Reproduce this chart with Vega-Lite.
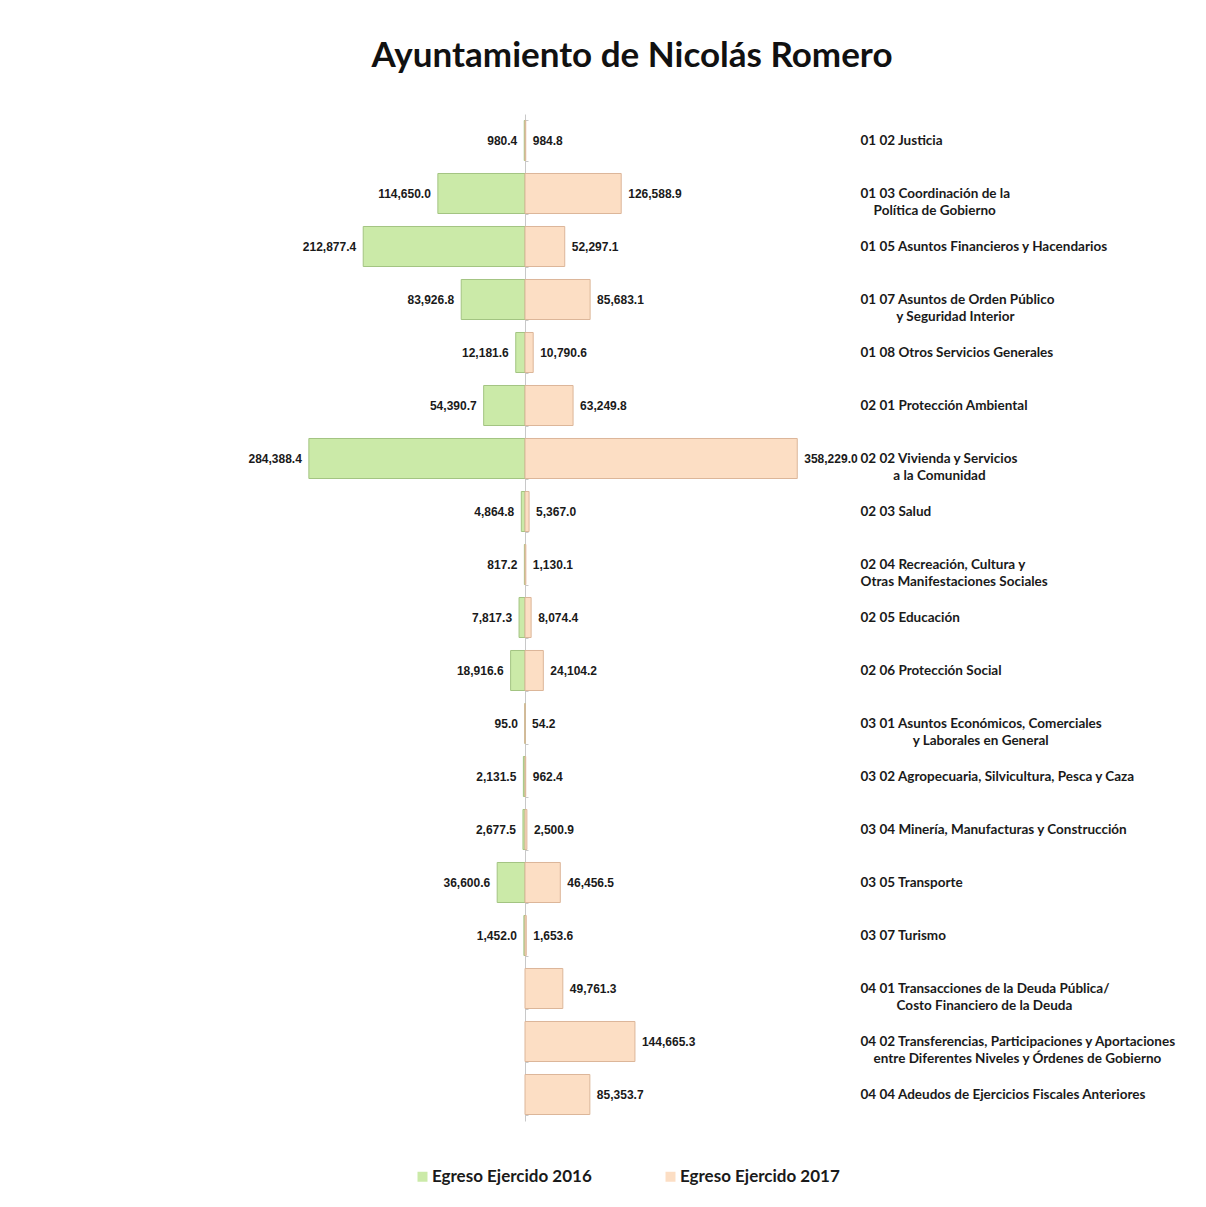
{
  "$schema": "https://vega.github.io/schema/vega-lite/v6.json",
  "autosize": {"type": "pad"},
  "padding": {"left": 240, "top": 38, "right": 5, "bottom": 5},
  "background": "white",
  "bounds": "flush",
  "spacing": 0,
  "title": {
    "text": "Ayuntamiento de Nicolás Romero",
    "font": "Lato",
    "fontSize": 35,
    "fontWeight": "bold",
    "color": "#111111",
    "anchor": "middle",
    "dx": -76,
    "offset": 40.5
  },
  "config": {
    "view": {"stroke": null},
    "legend": {
      "orient": "none",
      "legendX": 174,
      "legendY": 1054,
      "direction": "horizontal",
      "title": null,
      "symbolType": "square",
      "symbolSize": 100,
      "symbolStrokeWidth": 0,
      "labelFont": "Lato",
      "labelFontSize": 17,
      "labelFontWeight": "bold",
      "labelColor": "#1a1a1a",
      "labelOffset": 1,
      "columnPadding": 70,
      "labelLimit": 300
    }
  },
  "data": {
    "values": [
      {"cat": "01 02 Justicia", "serie": "Egreso Ejercido 2016", "valor": 980.4},
      {"cat": "01 02 Justicia", "serie": "Egreso Ejercido 2017", "valor": 984.8},
      {"cat": "01 03 Coordinación de la\n\u200b\u00a0\u00a0\u00a0\u00a0Política de Gobierno", "serie": "Egreso Ejercido 2016", "valor": 114650.0},
      {"cat": "01 03 Coordinación de la\n\u200b\u00a0\u00a0\u00a0\u00a0Política de Gobierno", "serie": "Egreso Ejercido 2017", "valor": 126588.9},
      {"cat": "01 05 Asuntos Financieros y Hacendarios", "serie": "Egreso Ejercido 2016", "valor": 212877.4},
      {"cat": "01 05 Asuntos Financieros y Hacendarios", "serie": "Egreso Ejercido 2017", "valor": 52297.1},
      {"cat": "01 07 Asuntos de Orden Público\n\u200b\u00a0\u00a0\u00a0\u00a0\u00a0\u00a0\u00a0\u00a0\u00a0\u00a0\u00a0y Seguridad Interior", "serie": "Egreso Ejercido 2016", "valor": 83926.8},
      {"cat": "01 07 Asuntos de Orden Público\n\u200b\u00a0\u00a0\u00a0\u00a0\u00a0\u00a0\u00a0\u00a0\u00a0\u00a0\u00a0y Seguridad Interior", "serie": "Egreso Ejercido 2017", "valor": 85683.1},
      {"cat": "01 08 Otros Servicios Generales", "serie": "Egreso Ejercido 2016", "valor": 12181.6},
      {"cat": "01 08 Otros Servicios Generales", "serie": "Egreso Ejercido 2017", "valor": 10790.6},
      {"cat": "02 01 Protección Ambiental", "serie": "Egreso Ejercido 2016", "valor": 54390.7},
      {"cat": "02 01 Protección Ambiental", "serie": "Egreso Ejercido 2017", "valor": 63249.8},
      {"cat": "02 02 Vivienda y Servicios\n\u200b\u00a0\u00a0\u00a0\u00a0\u00a0\u00a0\u00a0\u00a0\u00a0\u00a0a la Comunidad", "serie": "Egreso Ejercido 2016", "valor": 284388.4},
      {"cat": "02 02 Vivienda y Servicios\n\u200b\u00a0\u00a0\u00a0\u00a0\u00a0\u00a0\u00a0\u00a0\u00a0\u00a0a la Comunidad", "serie": "Egreso Ejercido 2017", "valor": 358229.0},
      {"cat": "02 03 Salud", "serie": "Egreso Ejercido 2016", "valor": 4864.8},
      {"cat": "02 03 Salud", "serie": "Egreso Ejercido 2017", "valor": 5367.0},
      {"cat": "02 04 Recreación, Cultura y\nOtras Manifestaciones Sociales", "serie": "Egreso Ejercido 2016", "valor": 817.2},
      {"cat": "02 04 Recreación, Cultura y\nOtras Manifestaciones Sociales", "serie": "Egreso Ejercido 2017", "valor": 1130.1},
      {"cat": "02 05 Educación", "serie": "Egreso Ejercido 2016", "valor": 7817.3},
      {"cat": "02 05 Educación", "serie": "Egreso Ejercido 2017", "valor": 8074.4},
      {"cat": "02 06 Protección Social", "serie": "Egreso Ejercido 2016", "valor": 18916.6},
      {"cat": "02 06 Protección Social", "serie": "Egreso Ejercido 2017", "valor": 24104.2},
      {"cat": "03 01 Asuntos Económicos, Comerciales\n\u200b\u00a0\u00a0\u00a0\u00a0\u00a0\u00a0\u00a0\u00a0\u00a0\u00a0\u00a0\u00a0\u00a0\u00a0\u00a0\u00a0y Laborales en General", "serie": "Egreso Ejercido 2016", "valor": 95.0},
      {"cat": "03 01 Asuntos Económicos, Comerciales\n\u200b\u00a0\u00a0\u00a0\u00a0\u00a0\u00a0\u00a0\u00a0\u00a0\u00a0\u00a0\u00a0\u00a0\u00a0\u00a0\u00a0y Laborales en General", "serie": "Egreso Ejercido 2017", "valor": 54.2},
      {"cat": "03 02 Agropecuaria, Silvicultura, Pesca y Caza", "serie": "Egreso Ejercido 2016", "valor": 2131.5},
      {"cat": "03 02 Agropecuaria, Silvicultura, Pesca y Caza", "serie": "Egreso Ejercido 2017", "valor": 962.4},
      {"cat": "03 04 Minería, Manufacturas y Construcción", "serie": "Egreso Ejercido 2016", "valor": 2677.5},
      {"cat": "03 04 Minería, Manufacturas y Construcción", "serie": "Egreso Ejercido 2017", "valor": 2500.9},
      {"cat": "03 05 Transporte", "serie": "Egreso Ejercido 2016", "valor": 36600.6},
      {"cat": "03 05 Transporte", "serie": "Egreso Ejercido 2017", "valor": 46456.5},
      {"cat": "03 07 Turismo", "serie": "Egreso Ejercido 2016", "valor": 1452.0},
      {"cat": "03 07 Turismo", "serie": "Egreso Ejercido 2017", "valor": 1653.6},
      {"cat": "04 01 Transacciones de la Deuda Pública/\n\u200b\u00a0\u00a0\u00a0\u00a0\u00a0\u00a0\u00a0\u00a0\u00a0\u00a0\u00a0Costo Financiero de la Deuda", "serie": "Egreso Ejercido 2017", "valor": 49761.3},
      {"cat": "04 02 Transferencias, Participaciones y Aportaciones\n\u200b\u00a0\u00a0\u00a0\u00a0entre Diferentes Niveles y Órdenes de Gobierno", "serie": "Egreso Ejercido 2017", "valor": 144665.3},
      {"cat": "04 04 Adeudos de Ejercicios Fiscales Anteriores", "serie": "Egreso Ejercido 2017", "valor": 85353.7}
    ]
  },
  "resolve": {"scale": {"y": "shared", "color": "shared"}},
  "hconcat": [
    {
      "width": 285,
      "height": 1007,
      "transform": [{"filter": "datum.serie == 'Egreso Ejercido 2016'"}],
      "encoding": {
        "y": {
          "field": "cat",
          "type": "nominal",
          "scale": {"paddingInner": 0.245, "paddingOuter": 0.1225},
          "axis": {
            "orient": "right",
            "title": null,
            "labels": false,
            "domainColor": "#c8c8c8",
            "tickColor": "#c8c8c8",
            "tickBand": "extent",
            "tickSize": 3
          }
        },
        "x": {
          "field": "valor",
          "type": "quantitative",
          "scale": {"domain": [0, 375000], "reverse": true, "nice": false},
          "axis": null
        }
      },
      "layer": [
        {
          "mark": {"type": "bar", "stroke": "#a3c482", "strokeWidth": 1},
          "encoding": {
            "color": {
              "field": "serie",
              "type": "nominal",
              "scale": {"domain": ["Egreso Ejercido 2016", "Egreso Ejercido 2017"], "range": ["#cbeaa8", "#fcdec4"]}
            }
          }
        },
        {
          "mark": {"type": "text", "align": "right", "baseline": "middle", "dx": -7, "font": "Liberation Sans", "fontSize": 12, "fontWeight": "bold", "color": "#1a1a1a"},
          "encoding": {"text": {"field": "valor", "type": "quantitative", "format": ",.1f"}}
        }
      ]
    },
    {
      "width": 315,
      "height": 1007,
      "transform": [{"filter": "datum.serie == 'Egreso Ejercido 2017'"}],
      "encoding": {
        "y": {
          "field": "cat",
          "type": "nominal",
          "scale": {"paddingInner": 0.245, "paddingOuter": 0.1225},
          "axis": {
            "orient": "right",
            "title": null,
            "domain": false,
            "ticks": false,
            "labelPadding": 20,
            "labelFont": "Lato",
            "labelFontSize": 13.5,
            "labelFontWeight": "bold",
            "labelColor": "#1a1a1a",
            "labelAlign": "left",
            "labelBaseline": "middle",
            "labelLineHeight": 17,
            "labelLimit": 400,
            "labelExpr": "split(datum.label, '\\n')"
          }
        },
        "x": {
          "field": "valor",
          "type": "quantitative",
          "scale": {"domain": [0, 414474], "nice": false},
          "axis": null
        }
      },
      "layer": [
        {
          "mark": {"type": "bar", "stroke": "#dcb699", "strokeWidth": 1},
          "encoding": {
            "color": {"field": "serie", "type": "nominal"}
          }
        },
        {
          "mark": {"type": "text", "align": "left", "baseline": "middle", "dx": 7, "font": "Liberation Sans", "fontSize": 12, "fontWeight": "bold", "color": "#1a1a1a"},
          "encoding": {"text": {"field": "valor", "type": "quantitative", "format": ",.1f"}}
        }
      ]
    }
  ]
}
